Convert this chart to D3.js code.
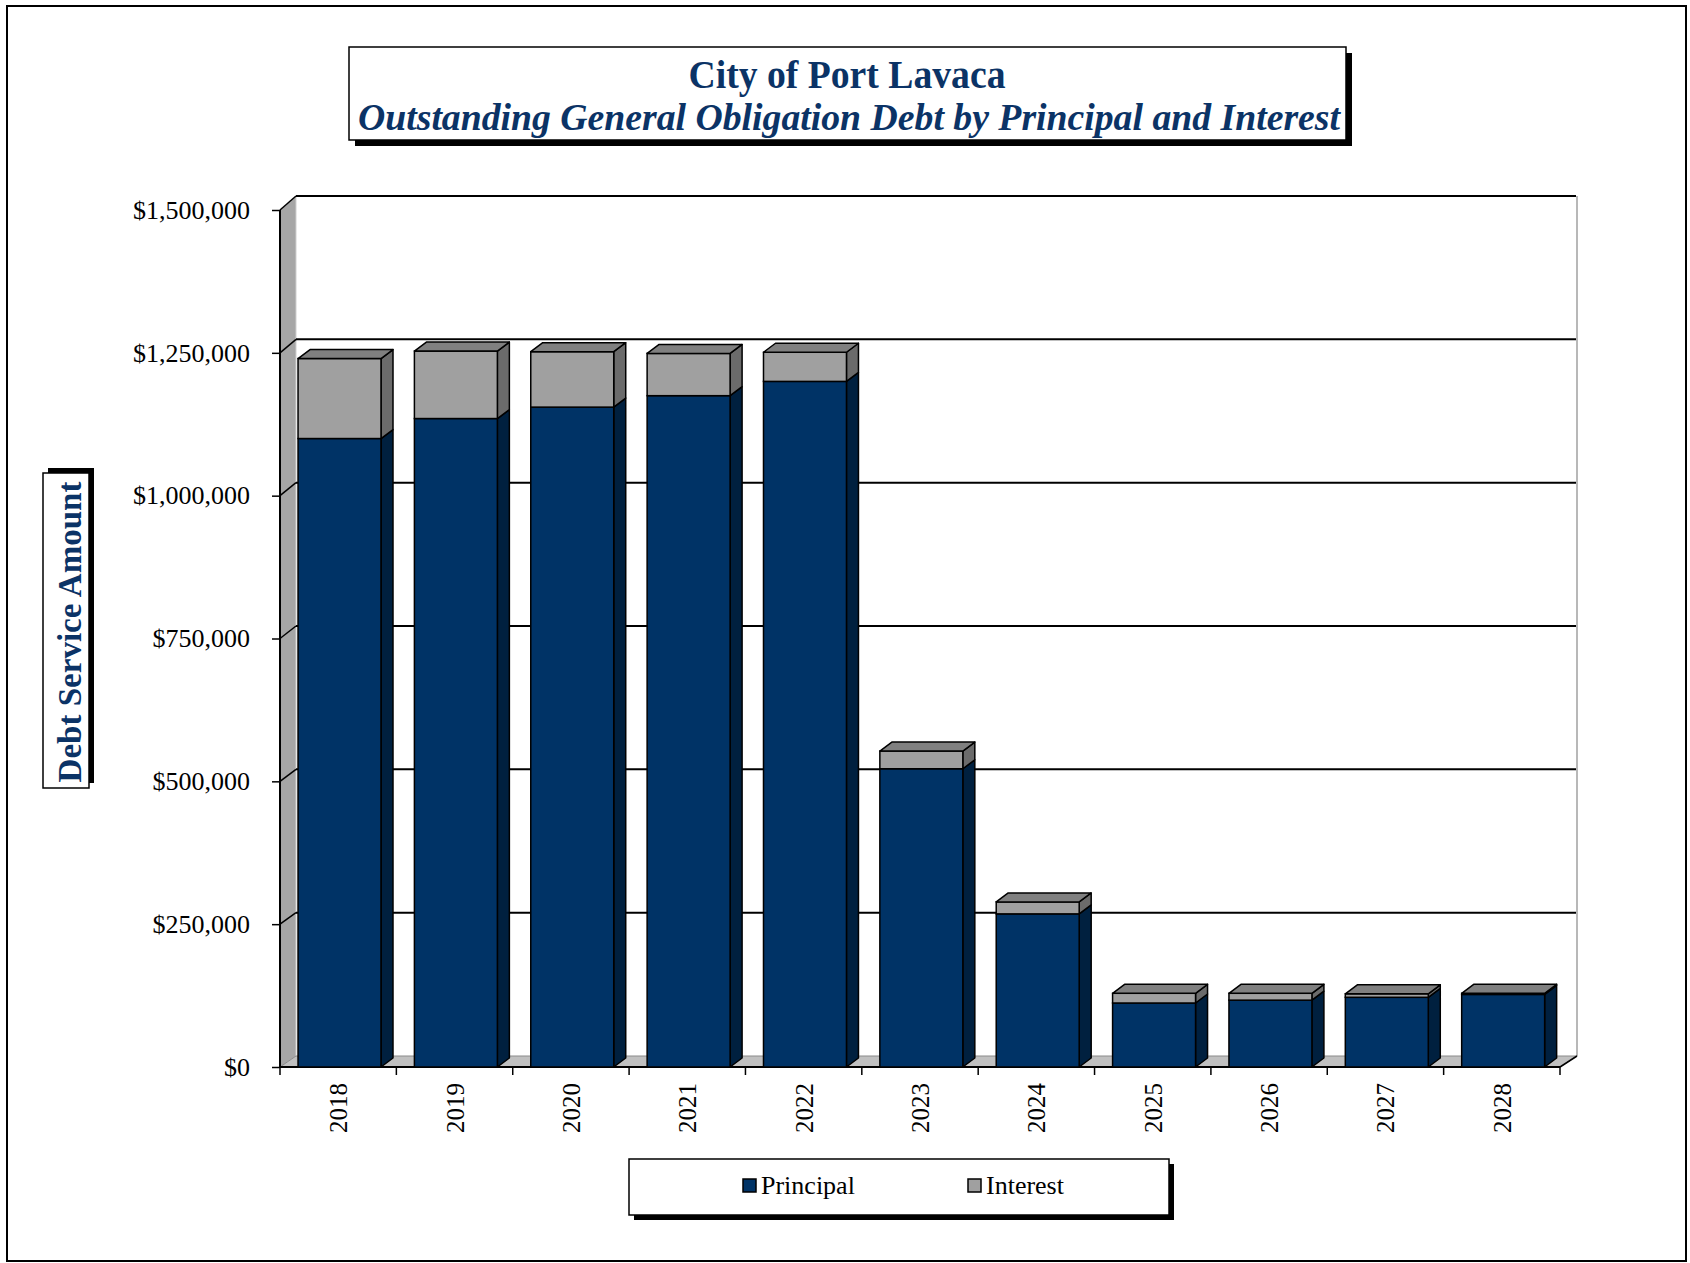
<!DOCTYPE html>
<html>
<head>
<meta charset="utf-8">
<script src="https://cdn.jsdelivr.net/npm/d3@7"></script>
<style>
  html, body { margin: 0; padding: 0; background: #fff; }
  svg { display: block; }
</style>
</head>
<body>
<svg id="chart" width="1690" height="1263"></svg>
<script>
// ---------------- DATA ----------------
const years = ["2018","2019","2020","2021","2022","2023","2024","2025","2026","2027","2028"];
const principal = [1100000, 1135000, 1155000, 1175000, 1200000, 522000, 268000, 112000, 117000, 122000, 127000];
const interest  = [140000, 118000, 97000, 74000, 51000, 31000, 21000, 17000, 12000, 6000, 2000];
const yTicks = [0, 250000, 500000, 750000, 1000000, 1250000, 1500000];
const seriesNames = ["Principal", "Interest"];
const titleLine1 = "City of Port Lavaca";
const titleLine2 = "Outstanding General Obligation Debt by Principal and Interest";
const yAxisTitle = "Debt Service Amount";

// ---------------- STYLE ----------------
const NAVY = "#003366", NAVY_SIDE = "#00203f";
const GREY = "#a0a0a0", GREY_SIDE = "#6b6b6b", GREY_TOP = "#808080";
const TXT = "#0b3366";
const FONT = "'Liberation Serif', 'Times New Roman', serif";

const svg = d3.select("#chart");

// outer border
svg.append("rect").attr("x", 7).attr("y", 6).attr("width", 1679).attr("height", 1255)
  .attr("fill", "#fff").attr("stroke", "#000").attr("stroke-width", 2);

// ---------------- SCALES ----------------
const x = d3.scaleBand().domain(years).range([280, 1560]).padding(0);
const y = d3.scaleLinear().domain([0, 1500000]).range([1067, 210]);      // front plane
const yBack = d3.scaleLinear().domain([0, 1500000]).range([1056, 196]);  // back wall
const wallDx = 16;
const barDx = 12, barDy = -9;
const barOff = x.step() * 0.155, barW = x.step() * 0.713;

// ---------------- WALLS ----------------
const xL = x.range()[0], xR = x.range()[1];
svg.append("rect").attr("x", xL + wallDx).attr("y", yBack(1500000))
  .attr("width", xR + wallDx + 1 - (xL + wallDx)).attr("height", yBack(0) - yBack(1500000))
  .attr("fill", "#fff");
svg.append("line").attr("x1", xR + wallDx + 1).attr("x2", xR + wallDx + 1)
  .attr("y1", yBack(1500000)).attr("y2", yBack(0)).attr("stroke", "#b8b8b8").attr("stroke-width", 2);
svg.append("path")
  .attr("d", `M${xL},${y(1500000)} L${xL + wallDx},${yBack(1500000)} L${xL + wallDx},${yBack(0)} L${xL},${y(0)} Z`)
  .attr("fill", "#a6a6a6").attr("stroke", "none");
svg.append("line").attr("x1", xL + wallDx).attr("x2", xL + wallDx)
  .attr("y1", yBack(1500000)).attr("y2", yBack(0)).attr("stroke", "#cfcfcf").attr("stroke-width", 1);
svg.append("path")
  .attr("d", `M${xL},${y(0)} L${xL + wallDx},${yBack(0)} L${xR + wallDx + 1},${yBack(0)} L${xR},${y(0)} Z`)
  .attr("fill", "#c0c0c0").attr("stroke", "#8a8a8a").attr("stroke-width", 1);

const grid = svg.append("g");
yTicks.filter(v => v > 0).forEach(v => {
  grid.append("line").attr("x1", xL + wallDx).attr("x2", xR + wallDx)
    .attr("y1", yBack(v)).attr("y2", yBack(v)).attr("stroke", "#000").attr("stroke-width", 2);
  grid.append("line").attr("x1", xL).attr("x2", xL + wallDx)
    .attr("y1", y(v)).attr("y2", yBack(v)).attr("stroke", "#000").attr("stroke-width", 1.5);
});
svg.append("line").attr("x1", xL).attr("x2", xL).attr("y1", y(1500000)).attr("y2", y(0))
  .attr("stroke", "#000").attr("stroke-width", 2);
svg.append("line").attr("x1", xR).attr("x2", xR + wallDx + 1).attr("y1", y(0)).attr("y2", yBack(0))
  .attr("stroke", "#000").attr("stroke-width", 1.5);

// ---------------- Y AXIS ----------------
const yAxis = d3.axisLeft(y).tickValues(yTicks).tickSize(8).tickPadding(22)
  .tickFormat(d => "$" + d3.format(",")(d));
const gy = svg.append("g").attr("transform", `translate(${xL},0)`).call(yAxis);
gy.select(".domain").remove();
gy.selectAll(".tick line").attr("stroke", "#000").attr("stroke-width", 1.5);
gy.selectAll(".tick text").attr("font-family", FONT).attr("font-size", 26).attr("fill", "#000");

// ---------------- X AXIS ----------------
const xAxis = d3.axisBottom(x).tickSize(0).tickPadding(0);
const gx = svg.append("g").attr("transform", `translate(0,${y(0)})`).call(xAxis);
gx.select(".domain").remove();
gx.selectAll(".tick text")
  .attr("font-family", FONT).attr("font-size", 25).attr("fill", "#000")
  .attr("text-anchor", "end").attr("dy", null).attr("y", 0)
  .attr("transform", "translate(9,16) rotate(-90)");
const bounds = years.map(d => x(d)).concat([xR]);
svg.append("g").selectAll("line").data(bounds).join("line")
  .attr("x1", d => d).attr("x2", d => d).attr("y1", y(0)).attr("y2", y(0) + 8)
  .attr("stroke", "#000").attr("stroke-width", 1.5);
svg.append("line").attr("x1", xL).attr("x2", xR).attr("y1", y(0)).attr("y2", y(0))
  .attr("stroke", "#000").attr("stroke-width", 2);

// ---------------- BARS ----------------
const bars = svg.append("g");
years.forEach((yr, i) => {
  const x0 = x(yr) + barOff, x1 = x0 + barW;
  const segs = [
    { v0: 0, v1: principal[i], front: NAVY, side: NAVY_SIDE },
    { v0: principal[i], v1: principal[i] + interest[i], front: GREY, side: GREY_SIDE }
  ];
  const g = bars.append("g");
  segs.forEach(s => {
    const yt = y(s.v1), yb = y(s.v0);
    g.append("path")
      .attr("d", `M${x1},${yb} L${x1 + barDx},${yb + barDy} L${x1 + barDx},${yt + barDy} L${x1},${yt} Z`)
      .attr("fill", s.side).attr("stroke", "#000").attr("stroke-width", 1.5).attr("stroke-linejoin", "round");
    g.append("rect").attr("x", x0).attr("y", yt).attr("width", barW).attr("height", Math.max(0, yb - yt))
      .attr("fill", s.front).attr("stroke", "#000").attr("stroke-width", 1.5);
  });
  const top = y(principal[i] + interest[i]);
  g.append("path")
    .attr("d", `M${x0},${top} L${x0 + barDx},${top + barDy} L${x1 + barDx},${top + barDy} L${x1},${top} Z`)
    .attr("fill", GREY_TOP).attr("stroke", "#000").attr("stroke-width", 1.5).attr("stroke-linejoin", "round");
});

// ---------------- TITLE BOX ----------------
function shadowBox(x0, y0, w, h, sx, sy) {
  svg.append("rect").attr("x", x0 + sx).attr("y", y0 + sy).attr("width", w).attr("height", h).attr("fill", "#000");
  svg.append("rect").attr("x", x0).attr("y", y0).attr("width", w).attr("height", h)
    .attr("fill", "#fff").attr("stroke", "#000").attr("stroke-width", 1.5);
}
shadowBox(349, 47, 997, 93, 6, 6);
svg.append("text").attr("x", 847).attr("y", 88).attr("text-anchor", "middle")
  .attr("font-family", FONT).attr("font-weight", "bold").attr("font-size", 40).attr("fill", TXT)
  .attr("textLength", 317).attr("lengthAdjust", "spacingAndGlyphs").text(titleLine1);
svg.append("text").attr("x", 849).attr("y", 130).attr("text-anchor", "middle")
  .attr("font-family", FONT).attr("font-weight", "bold").attr("font-style", "italic").attr("font-size", 38).attr("fill", TXT)
  .attr("textLength", 982).attr("lengthAdjust", "spacingAndGlyphs").text(titleLine2);

// ---------------- Y AXIS TITLE BOX ----------------
shadowBox(43, 473, 46, 315, 5, -5);
svg.append("text").attr("transform", "translate(81,632) rotate(-90)").attr("text-anchor", "middle")
  .attr("font-family", FONT).attr("font-weight", "bold").attr("font-size", 33).attr("fill", TXT)
  .attr("textLength", 301).attr("lengthAdjust", "spacingAndGlyphs").text(yAxisTitle);

// ---------------- LEGEND ----------------
shadowBox(629, 1159, 540, 56, 5, 5);
const legendColors = [NAVY, GREY];
const legendX = [743, 968];
seriesNames.forEach((name, i) => {
  svg.append("rect").attr("x", legendX[i]).attr("y", 1179).attr("width", 13).attr("height", 13)
    .attr("fill", legendColors[i]).attr("stroke", "#000").attr("stroke-width", 1.5);
  svg.append("text").attr("x", legendX[i] + 18).attr("y", 1194)
    .attr("font-family", FONT).attr("font-size", 26).attr("fill", "#000").text(name);
});
</script>
</body>
</html>
